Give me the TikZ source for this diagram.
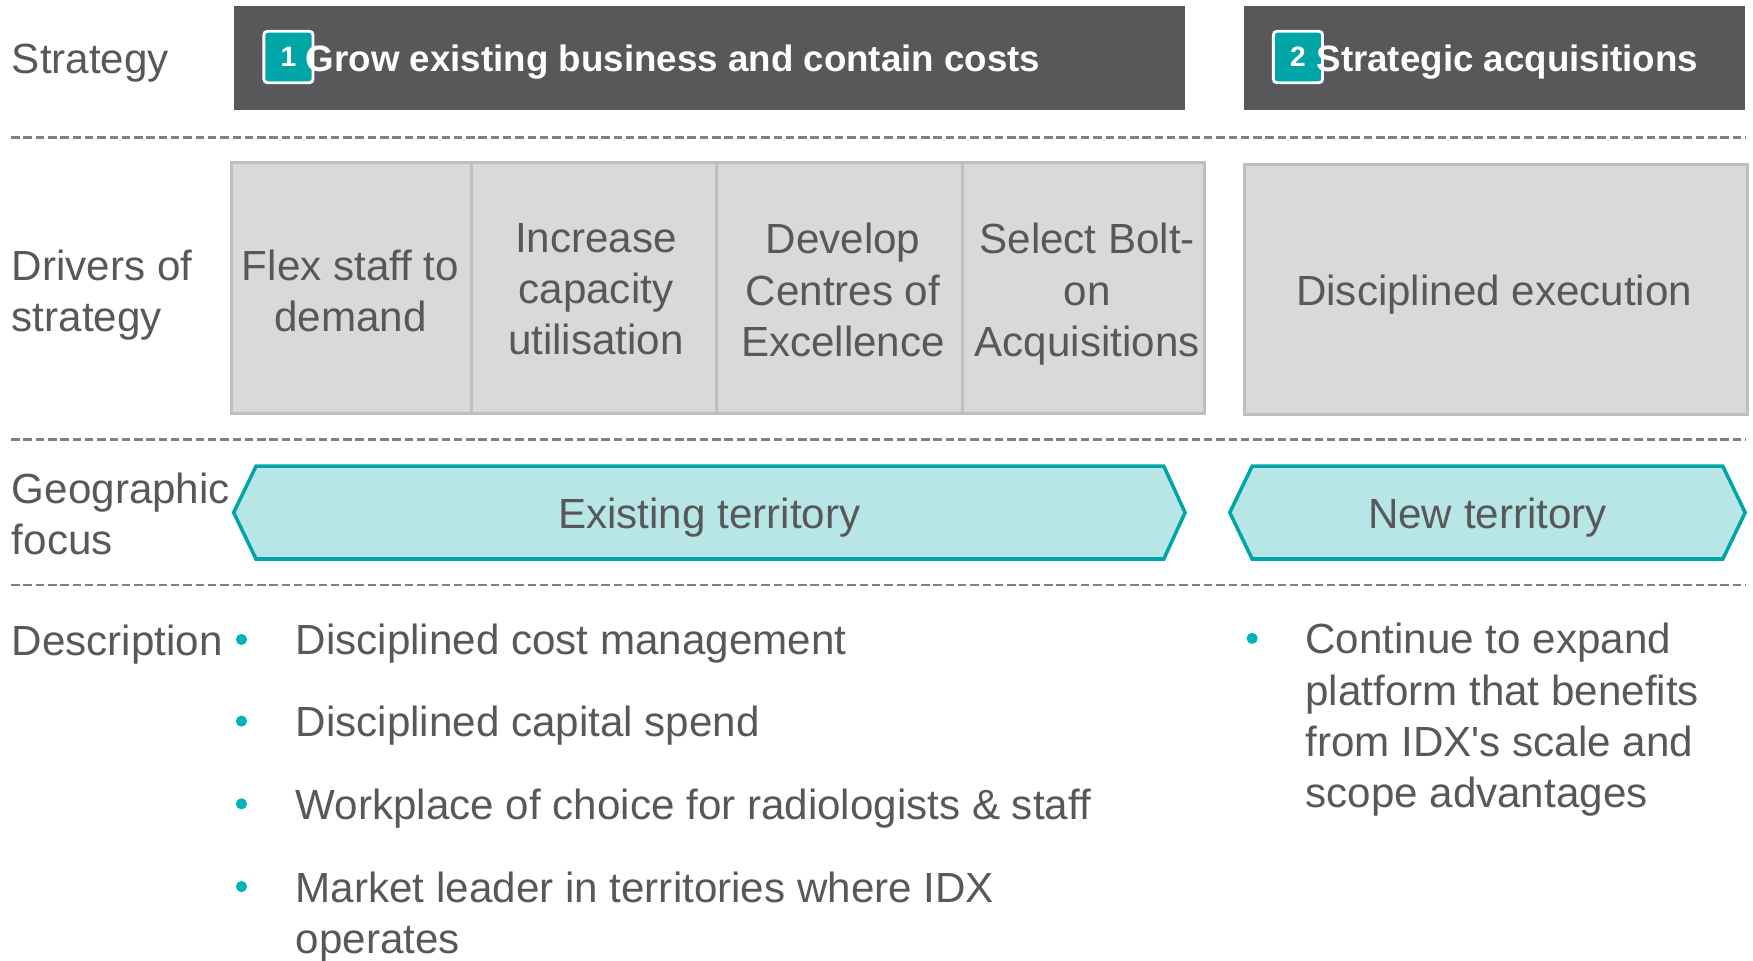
\documentclass[tikz,border=0pt]{standalone}
\usepackage{fontspec}
\setmainfont{Liberation Sans}
\definecolor{txt}{HTML}{58585A}
\definecolor{darkbox}{HTML}{58585A}
\definecolor{badgec}{HTML}{00A5A8}
\definecolor{cellfill}{HTML}{D9D9D9}
\definecolor{cellline}{HTML}{BFBFBF}
\definecolor{hexfill}{HTML}{B8E5E6}
\definecolor{hexline}{HTML}{00A5A8}
\definecolor{bulletc}{HTML}{00B5B8}
\definecolor{dashc}{HTML}{808080}
\def\px{0.01118cm}
\begin{document}
\begin{tikzpicture}[x=0.01118cm,y=-0.01118cm,
  lbl/.style={inner sep=0, text=txt, font=\fontsize{12}{14.6}\selectfont, align=left},
  celltext/.style={inner sep=0, text=txt, font=\fontsize{12}{14.6}\selectfont, align=center},
  stratbox/.style={fill=darkbox, draw=none, inner sep=0, minimum height=93*\px},
  badge/.style={fill=badgec, draw=white, line width=0.8pt, rounded corners=1pt,
    minimum width=44*\px, minimum height=46*\px, inner sep=0, text=white,
    font=\bfseries\fontsize{8}{9}\selectfont},
  title/.style={inner sep=0, text=white, font=\bfseries\fontsize{10.45}{12}\selectfont},
  cell/.style={fill=cellfill, draw=cellline, line width=0.85pt, inner sep=0},
  hex/.style={fill=hexfill, draw=hexline, line width=1pt, line join=miter},
  bulletdot/.style={circle, fill=bulletc, draw=none, minimum size=10*\px, inner sep=0},
  sep/.style={draw=dashc, line width=0.65pt, dash pattern=on 2.4pt off 1.1pt}
]
\useasboundingbox (0,0) rectangle (1568,859);

% separators
\coordinate (l1a) at (10,123);  \coordinate (l1b) at (1561,123);
\coordinate (l2a) at (10,393);  \coordinate (l2b) at (1561,393);
\coordinate (l3a) at (10,523);  \coordinate (l3b) at (1561,523);
\draw[sep] (l1a) -- (l1b);
\draw[sep] (l2a) -- (l2b);
\draw[sep] (l3a) -- (l3b);

% row labels
\node[lbl, anchor=base west] (rStrategy) at (10,65.5) {Strategy};
\node[lbl, anchor=north west] (rDrivers) at (10,223) {Drivers of\\strategy};
\node[lbl, anchor=north west] (rGeo) at (10,422) {Geographic\\focus};
\node[lbl, anchor=base west] (rDesc) at (10,586.5) {Description};

% strategy boxes
\node[stratbox, minimum width=851*\px] (s1) at (634.5,51.5) {};
\node[stratbox, minimum width=448*\px] (s2) at (1337,51.5) {};
\node[badge] (b1) at (258,51) {1};
\node[badge] (b2) at (1161,51) {2};
\node[title, anchor=base west] (t1) at (273,63.8) {Grow existing business and contain costs};
\node[title, anchor=base west] (t2) at (1177,63.8) {Strategic acquisitions};

% drivers
\node[cell, minimum width=215*\px, minimum height=225*\px] (c1) at (314.5,257.5) {};
\node[cell, minimum width=219*\px, minimum height=225*\px] (c2) at (531.5,257.5) {};
\node[cell, minimum width=220*\px, minimum height=225*\px] (c3) at (751,257.5) {};
\node[cell, minimum width=216*\px, minimum height=225*\px] (c4) at (969,257.5) {};
\node[cell, minimum width=450*\px, minimum height=224*\px] (c5) at (1338,259) {};
\node[celltext, anchor=north] (ct1) at (313.5,223) {Flex staff to\\demand};
\node[celltext, anchor=north] (ct2) at (533,199) {Increase\\capacity\\utilisation};
\node[celltext, anchor=north] (ct3) at (754,199) {Develop\\Centres of\\Excellence};
\node[celltext, anchor=north] (ct4) at (972.5,199) {Select Bolt-\\on\\Acquisitions};
\node[celltext, anchor=base] (ct5) at (1336.5,273.5) {Disciplined execution};

% geographic focus
\draw[hex] (209,458.5) -- (229,417) -- (1041,417) -- (1060,458.5) -- (1041,500) -- (229,500) -- cycle;
\draw[hex] (1100,458.5) -- (1120,417) -- (1541,417) -- (1561,458.5) -- (1541,500) -- (1120,500) -- cycle;
\node[lbl, anchor=base] (g1) at (634.5,472.5) {Existing territory};
\node[lbl, anchor=base] (g2) at (1330.5,472.5) {New territory};

% description
\node[bulletdot] (d1) at (216,572) {};
\node[bulletdot] (d2) at (216,645) {};
\node[bulletdot] (d3) at (216,719) {};
\node[bulletdot] (d4) at (216,793) {};
\node[lbl, anchor=base west] (e1) at (264,585.5) {Disciplined cost management};
\node[lbl, anchor=base west] (e2) at (264,659) {Disciplined capital spend};
\node[lbl, anchor=base west] (e3) at (264,733) {Workplace of choice for radiologists \& staff};
\node[lbl, anchor=north west] (e4) at (264,779) {Market leader in territories where IDX\\operates};
\node[bulletdot] (d5) at (1120,571) {};
\node[lbl, anchor=north west] (e5) at (1167,557) {Continue to expand\\platform that benefits\\from IDX\textquotesingle s scale and\\scope advantages};
\end{tikzpicture}
\end{document}
